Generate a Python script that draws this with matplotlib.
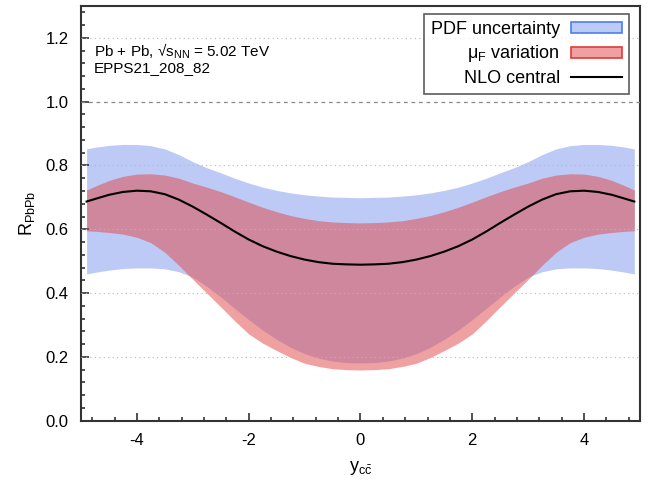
import numpy as np
import matplotlib
matplotlib.use("Agg")
import matplotlib.pyplot as plt
from matplotlib.patches import Patch
from matplotlib.lines import Line2D
from matplotlib.ticker import MultipleLocator, FormatStrFormatter

plt.rcParams["font.family"] = ["Liberation Sans", "DejaVu Sans"]
plt.rcParams["mathtext.fontset"] = "custom"
plt.rcParams["mathtext.rm"] = "Liberation Sans"
plt.rcParams["mathtext.it"] = "Liberation Sans:italic"
plt.rcParams["axes.unicode_minus"] = False

# rapidity points
y_cc = [-4.9, -4.75, -4.5, -4.25, -4.0, -3.75, -3.5, -3.25, -3.0, -2.75, -2.5,
        -2.25, -2.0, -1.75, -1.5, -1.25, -1.0, -0.75, -0.5, -0.25, 0.0,
        0.25, 0.5, 0.75, 1.0, 1.25, 1.5, 1.75, 2.0, 2.25, 2.5,
        2.75, 3.0, 3.25, 3.5, 3.75, 4.0, 4.25, 4.5, 4.75, 4.9]

# NLO central
central = [0.687, 0.695, 0.708, 0.717, 0.721, 0.719, 0.710, 0.693, 0.671, 0.646, 0.620,
           0.593, 0.568, 0.547, 0.530, 0.516, 0.505, 0.497, 0.492, 0.490, 0.489,
           0.490, 0.492, 0.497, 0.505, 0.516, 0.530, 0.547, 0.568, 0.593, 0.620,
           0.646, 0.671, 0.693, 0.710, 0.719, 0.721, 0.717, 0.708, 0.695, 0.687]

# PDF uncertainty band
pdf_hi = [0.852, 0.857, 0.863, 0.866, 0.866, 0.862, 0.852, 0.834, 0.812, 0.793, 0.777,
          0.760, 0.745, 0.732, 0.722, 0.714, 0.708, 0.704, 0.701, 0.700, 0.699,
          0.700, 0.701, 0.704, 0.708, 0.714, 0.722, 0.732, 0.745, 0.760, 0.777,
          0.793, 0.812, 0.834, 0.852, 0.862, 0.866, 0.866, 0.863, 0.857, 0.852]
pdf_lo = [0.460, 0.465, 0.472, 0.477, 0.479, 0.479, 0.476, 0.467, 0.450, 0.421, 0.388,
          0.352, 0.317, 0.284, 0.255, 0.230, 0.210, 0.196, 0.187, 0.182, 0.181,
          0.182, 0.187, 0.196, 0.210, 0.230, 0.255, 0.284, 0.317, 0.352, 0.388,
          0.421, 0.450, 0.467, 0.476, 0.479, 0.479, 0.477, 0.472, 0.465, 0.460]

# muF variation band
mu_hi = [0.723, 0.735, 0.753, 0.766, 0.773, 0.774, 0.770, 0.760, 0.745, 0.732, 0.718,
         0.702, 0.685, 0.669, 0.655, 0.643, 0.634, 0.627, 0.623, 0.621, 0.620,
         0.621, 0.623, 0.627, 0.634, 0.643, 0.655, 0.669, 0.685, 0.702, 0.718,
         0.732, 0.745, 0.760, 0.770, 0.774, 0.773, 0.766, 0.753, 0.735, 0.723]
mu_lo = [0.595, 0.594, 0.590, 0.585, 0.575, 0.558, 0.528, 0.487, 0.443, 0.400, 0.357,
         0.313, 0.272, 0.243, 0.220, 0.198, 0.180, 0.170, 0.163, 0.160, 0.159,
         0.160, 0.163, 0.170, 0.180, 0.198, 0.220, 0.243, 0.272, 0.313, 0.357,
         0.400, 0.443, 0.487, 0.528, 0.558, 0.575, 0.585, 0.590, 0.594, 0.595]

blue_fill = "#bccaf5"
blue_edge = "#4a7ff0"
red_base = "#e04545"
red_edge = "#e03a3a"

fig = plt.figure(figsize=(6.49, 4.82), dpi=100)
ax = fig.add_axes([0.1248, 0.1272, 0.8612, 0.8604])

ax.fill_between(y_cc, pdf_lo, pdf_hi, color=blue_fill, lw=0, zorder=1)
ax.fill_between(y_cc, mu_lo, mu_hi, color=red_base, alpha=0.5, lw=0, zorder=2)

# grid lines over bands
for g in [0.2, 0.4, 0.6, 0.8, 1.2]:
    ax.axhline(g, color="#b8b8b8", lw=0.8, ls=(0, (1, 3)), zorder=3)
ax.axhline(1.0, color="#888888", lw=0.9, ls=(0, (3, 3)), zorder=3)

ax.plot(y_cc, central, color="black", lw=1.5, zorder=4)

ax.set_xlim(-5, 5)
ax.set_ylim(0, 1.3)
ax.xaxis.set_major_locator(MultipleLocator(2))
ax.xaxis.set_minor_locator(MultipleLocator(0.4))
ax.yaxis.set_major_locator(MultipleLocator(0.2))
ax.yaxis.set_minor_locator(MultipleLocator(0.04))
ax.yaxis.set_major_formatter(FormatStrFormatter("%.1f"))
ax.tick_params(which="both", direction="in", color="#333333", width=1.2)
ax.tick_params(which="major", length=6, labelsize=12, pad=9)
ax.tick_params(which="minor", length=3)
for s in ax.spines.values():
    s.set_color("#333333")
    s.set_linewidth(1.5)

ax.set_xlabel(r"y$_{\mathrm{c}\bar{\mathrm{c}}}$", fontsize=13, labelpad=8)
ax.set_ylabel(r"R$_{\mathrm{PbPb}}$", fontsize=13, labelpad=6)

ax.text(0.023, 0.877, "Pb + Pb, √s$_{\\mathrm{NN}}$ = 5.02 TeV", transform=ax.transAxes,
        fontsize=11, ha="left", va="baseline")
ax.text(0.023, 0.841, "EPPS21_208_82", transform=ax.transAxes,
        fontsize=11, ha="left", va="baseline")

handles = [
    Patch(facecolor=blue_fill, edgecolor=blue_edge, lw=1.2),
    Patch(facecolor="#f0a0a0", edgecolor=red_edge, lw=1.2),
    Line2D([], [], color="black", lw=1.5),
]
labels = ["PDF uncertainty", "μ$_{\\mathrm{F}}$ variation", "NLO central"]
leg = ax.legend(handles, labels, loc="upper right", bbox_to_anchor=(0.980, 0.981),
                markerfirst=False, fontsize=13, frameon=True, fancybox=False,
                handlelength=2.8, handleheight=0.55, handletextpad=0.6,
                labelspacing=0.3, borderpad=0.4, borderaxespad=0)
leg.get_frame().set_edgecolor("#333333")
leg.get_frame().set_linewidth(1.2)
leg.set_zorder(5)

fig.savefig("out.png", dpi=100)
